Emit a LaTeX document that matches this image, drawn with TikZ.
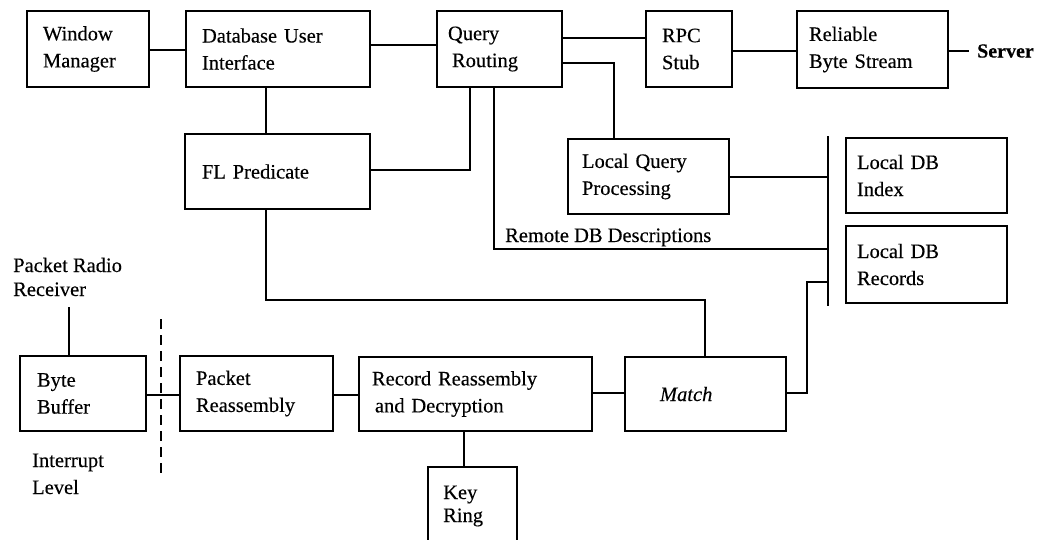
\documentclass[tikz,border=0pt]{standalone}
\usepackage{fontspec}
\setmainfont{Liberation Serif}[FakeBold=0.3]
\tikzset{
  wire/.style={line width=1.9pt},
  blk/.style={draw, line width=1.9pt, inner ysep=0pt, align=left,
    font=\fontsize{20.5}{27}\selectfont},
  lbl/.style={inner sep=0pt, align=left, font=\fontsize{20.5}{25}\selectfont},
}
% \blockbox{name}{x1}{x2}{y1}{y2}{left inset}{text}
\newcommand\blockbox[7]{%
  \pgfmathsetmacro\bw{#3-#2}%
  \pgfmathsetmacro\bh{#5-#4}%
  \pgfmathsetmacro\tw{#3-#2-2*#6}%
  \node[blk, inner xsep=#6pt, minimum width=\bw pt, minimum height=\bh pt,
        text width=\tw pt] (#1) at ({(#2+#3)/2},{(#4+#5)/2}) {#7};}
\begin{document}
\begin{tikzpicture}[x=1pt,y=-1pt]
\useasboundingbox (0,0) rectangle (1059,539);

% top row
\blockbox{wm}{27}{149}{11}{87}{16}{Window\\Manager}
\blockbox{dui}{186}{370}{11}{87}{16}{Database User\\Interface}
\blockbox{qr}{437}{562}{11}{87}{11}{Query\\\hspace*{4pt}Routing}
\blockbox{rpc}{646}{732}{11}{87}{16}{RPC\\Stub}
\blockbox{rbs}{797}{948}{11}{88}{12}{Reliable\\Byte Stream}
\node[lbl, anchor=west, font=\fontsize{20}{25}\selectfont\bfseries] (server) at (977,51) {Server};

% middle row
\blockbox{fl}{185}{370}{134}{209}{17}{FL Predicate}
\blockbox{lqp}{568}{729}{139}{214}{14}{Local Query\\Processing}
\blockbox{ldi}{846}{1007}{138}{213}{11}{Local DB\\Index}
\blockbox{ldr}{846}{1007}{226}{303}{11}{Local DB\\Records}
\node[lbl, anchor=base west] (remote) at (505,242) {Remote DB Descriptions};

% bottom row
\blockbox{bb}{20}{146}{356}{431}{17}{Byte\\Buffer}
\blockbox{pr}{180}{333}{356}{431}{16}{Packet\\Reassembly}
\blockbox{rec}{359}{592}{357}{431}{13}{Record Reassembly\\\hspace*{3pt}and Decryption}
\blockbox{match}{625}{786}{357}{431}{35}{\itshape Match}
\node[lbl, anchor=base west, font=\fontsize{20.5}{24}\selectfont] (radio) at (13,296) {Packet Radio\\Receiver};
\node[lbl, anchor=base west, font=\fontsize{20.5}{27}\selectfont] (intr) at (32,494) {Interrupt\\Level};

% key ring, running off the lower edge
\node[lbl, anchor=base west, font=\fontsize{20.5}{23}\selectfont] (key) at (443,522) {Key\\Ring};
\coordinate (keytop) at (464,467);
\draw[wire] (428,541) -- (428,467) -- (517,467) -- (517,541);

% shared bus beside the local database
\coordinate (bustop) at (828,136);
\coordinate (busbot) at (828,306);
\draw[wire] (bustop) -- (busbot);

% interrupt-level boundary
\coordinate (dtop) at (161,319);
\coordinate (dbot) at (161,473);
\draw[wire, dash pattern=on 10pt off 6pt] (dtop) -- (dbot);

% connectors
\draw[wire] (wm.east |- 0,50) -- (dui.west |- 0,50);
\draw[wire] (dui.east |- 0,45) -- (qr.west |- 0,45);
\draw[wire] (qr.east |- 0,38) -- (rpc.west |- 0,38);
\draw[wire] (rpc.east |- 0,51) -- (rbs.west |- 0,51);
\draw[wire] (rbs.east |- 0,51) -- ([xshift=-8pt]server.west);
\draw[wire] (qr.east |- 0,63) -| (lqp.north -| 614,0);
\draw[wire] (lqp.east |- 0,177) -- (bustop |- 0,177);
\draw[wire] (dui.south -| 266,0) -- (fl.north -| 266,0);
\draw[wire] (fl.east |- 0,170) -| (qr.south -| 470,0);
\draw[wire] (qr.south -| 494,0) |- (bustop |- 0,249);
\draw[wire] (fl.south -| 266,0) -- (266,300) -| (match.north -| 705,0);
\draw[wire] (match.east |- 0,393) -- (807,393) |- (bustop |- 0,282);
\draw[wire] (rec.east |- 0,393) -- (match.west |- 0,393);
\draw[wire] (pr.east |- 0,395) -- (rec.west |- 0,395);
\draw[wire] (bb.east |- 0,395) -- (pr.west |- 0,395);
\coordinate (rx) at (69,307);
\draw[wire] (rx) -- (bb.north -| rx);
\draw[wire] (rec.south -| keytop) -- (keytop);
\end{tikzpicture}
\end{document}
